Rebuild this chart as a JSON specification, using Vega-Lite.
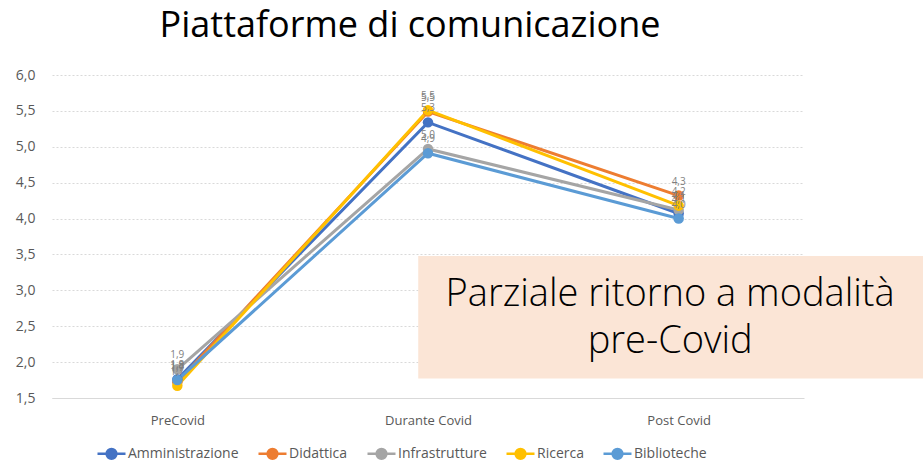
{
  "$schema": "https://vega.github.io/schema/vega-lite/v6.json",
  "width": 752,
  "height": 323,
  "autosize": {"type": "none"},
  "padding": {"left": 52, "top": 75, "right": 119, "bottom": 64},
  "background": "white",
  "config": {
    "view": {"stroke": null},
    "font": "Open Sans",
    "locale": {"number": {"decimal": ",", "thousands": ".", "grouping": [3], "currency": ["€", ""]}}
  },
  "title": {
    "text": "Piattaforme di comunicazione",
    "fontSize": 36,
    "font": "Open Sans",
    "fontWeight": "normal",
    "color": "#000000",
    "anchor": "middle",
    "dx": -18,
    "offset": 23
  },
  "datasets": {
    "series": [
      {"fase": "PreCovid", "area": "Amministrazione", "valore": 1.76},
      {"fase": "Durante Covid", "area": "Amministrazione", "valore": 5.34},
      {"fase": "Post Covid", "area": "Amministrazione", "valore": 4.07},
      {"fase": "PreCovid", "area": "Didattica", "valore": 1.72},
      {"fase": "Durante Covid", "area": "Didattica", "valore": 5.49},
      {"fase": "Post Covid", "area": "Didattica", "valore": 4.32},
      {"fase": "PreCovid", "area": "Infrastrutture", "valore": 1.9},
      {"fase": "Durante Covid", "area": "Infrastrutture", "valore": 4.97},
      {"fase": "Post Covid", "area": "Infrastrutture", "valore": 4.12},
      {"fase": "PreCovid", "area": "Ricerca", "valore": 1.67},
      {"fase": "Durante Covid", "area": "Ricerca", "valore": 5.51},
      {"fase": "Post Covid", "area": "Ricerca", "valore": 4.18},
      {"fase": "PreCovid", "area": "Biblioteche", "valore": 1.75},
      {"fase": "Durante Covid", "area": "Biblioteche", "valore": 4.91},
      {"fase": "Post Covid", "area": "Biblioteche", "valore": 4.0}
    ],
    "box": [
      {"x1": 0.487, "x2": 1.2, "y1": 1.77, "y2": 3.48}
    ],
    "note": [
      {"x": 0.822, "y": 2.93, "t": "Parziale ritorno a modalità"},
      {"x": 0.822, "y": 2.28, "t": "pre-Covid"}
    ]
  },
  "encoding": {
    "y": {
      "field": "valore", "type": "quantitative",
      "scale": {"domain": [1.5, 6.0], "nice": false, "zero": false},
      "axis": {
        "title": null, "values": [1.5, 2.0, 2.5, 3.0, 3.5, 4.0, 4.5, 5.0, 5.5, 6.0],
        "tickCount": 10, "format": ".1f", "labelOverlap": false,
        "labelFontSize": 14, "labelColor": "#595959", "labelFont": "Open Sans",
        "ticks": false, "domain": false, "labelPadding": 17,
        "grid": true, "gridColor": "#D9D9D9", "gridDash": [2, 2], "gridWidth": 1
      }
    }
  },
  "resolve": {"scale": {"x": "independent"}, "axis": {"x": "independent"}},
  "layer": [
    {
      "data": {"name": "series"},
      "encoding": {
        "x": {
          "field": "fase", "type": "ordinal",
          "sort": ["PreCovid", "Durante Covid", "Post Covid"],
          "scale": {"type": "point", "padding": 0.5},
          "axis": {
            "title": null, "labelAngle": 0, "labelFontSize": 13, "labelColor": "#595959",
            "labelFont": "Open Sans", "ticks": false, "domainColor": "#D9D9D9", "domainWidth": 1,
            "labelPadding": 16, "grid": false
          }
        },
        "color": {
          "field": "area", "type": "nominal",
          "sort": ["Amministrazione", "Didattica", "Infrastrutture", "Ricerca", "Biblioteche"],
          "scale": {
            "domain": ["Amministrazione", "Didattica", "Infrastrutture", "Ricerca", "Biblioteche"],
            "range": ["#4472C4", "#ED7D31", "#A5A5A5", "#FFC000", "#5B9BD5"]
          },
          "legend": {
            "title": null, "orient": "none", "direction": "horizontal",
            "legendX": 44, "legendY": 363,
            "symbolType": "M-1,0H1M-0.35,0a0.35,0.35 0 1,0 0.7,0a0.35,0.35 0 1,0 -0.7,0",
            "symbolSize": 784, "symbolStrokeWidth": 2.5,
            "labelFontSize": 14, "labelColor": "#595959", "labelFont": "Open Sans",
            "columnPadding": 14, "labelOffset": 1,
            "encode": {
              "symbols": {
                "update": {
                  "fill": {"scale": "color", "field": "value"},
                  "stroke": {"scale": "color", "field": "value"},
                  "strokeWidth": {"value": 2.5},
                  "opacity": {"value": 1}
                }
              }
            }
          }
        }
      },
      "layer": [
        {"mark": {"type": "line", "strokeWidth": 3}},
        {"mark": {"type": "point", "filled": true, "size": 110, "opacity": 1}},
        {
          "mark": {"type": "text", "dy": -14, "fontSize": 10, "color": "#7F7F7F", "font": "Open Sans"},
          "encoding": {
            "text": {"field": "valore", "type": "quantitative", "format": ".1f"},
            "color": {"value": "#7F7F7F"}
          }
        }
      ]
    },
    {
      "layer": [
        {
          "data": {"name": "box"},
          "mark": {"type": "rect", "color": "#FBE5D6", "clip": false},
          "encoding": {
            "x": {"field": "x1", "type": "quantitative", "scale": {"domain": [0, 1], "nice": false, "zero": false}, "axis": null},
            "x2": {"field": "x2"},
            "y": {"field": "y1", "type": "quantitative"},
            "y2": {"field": "y2"}
          }
        },
        {
          "data": {"name": "note"},
          "mark": {"type": "text", "fontSize": 38, "font": "Open Sans", "fontWeight": 300, "color": "#000000", "align": "center", "baseline": "middle", "clip": false},
          "encoding": {
            "x": {"field": "x", "type": "quantitative", "axis": null},
            "y": {"field": "y", "type": "quantitative"},
            "text": {"field": "t"}
          }
        }
      ]
    }
  ]
}
